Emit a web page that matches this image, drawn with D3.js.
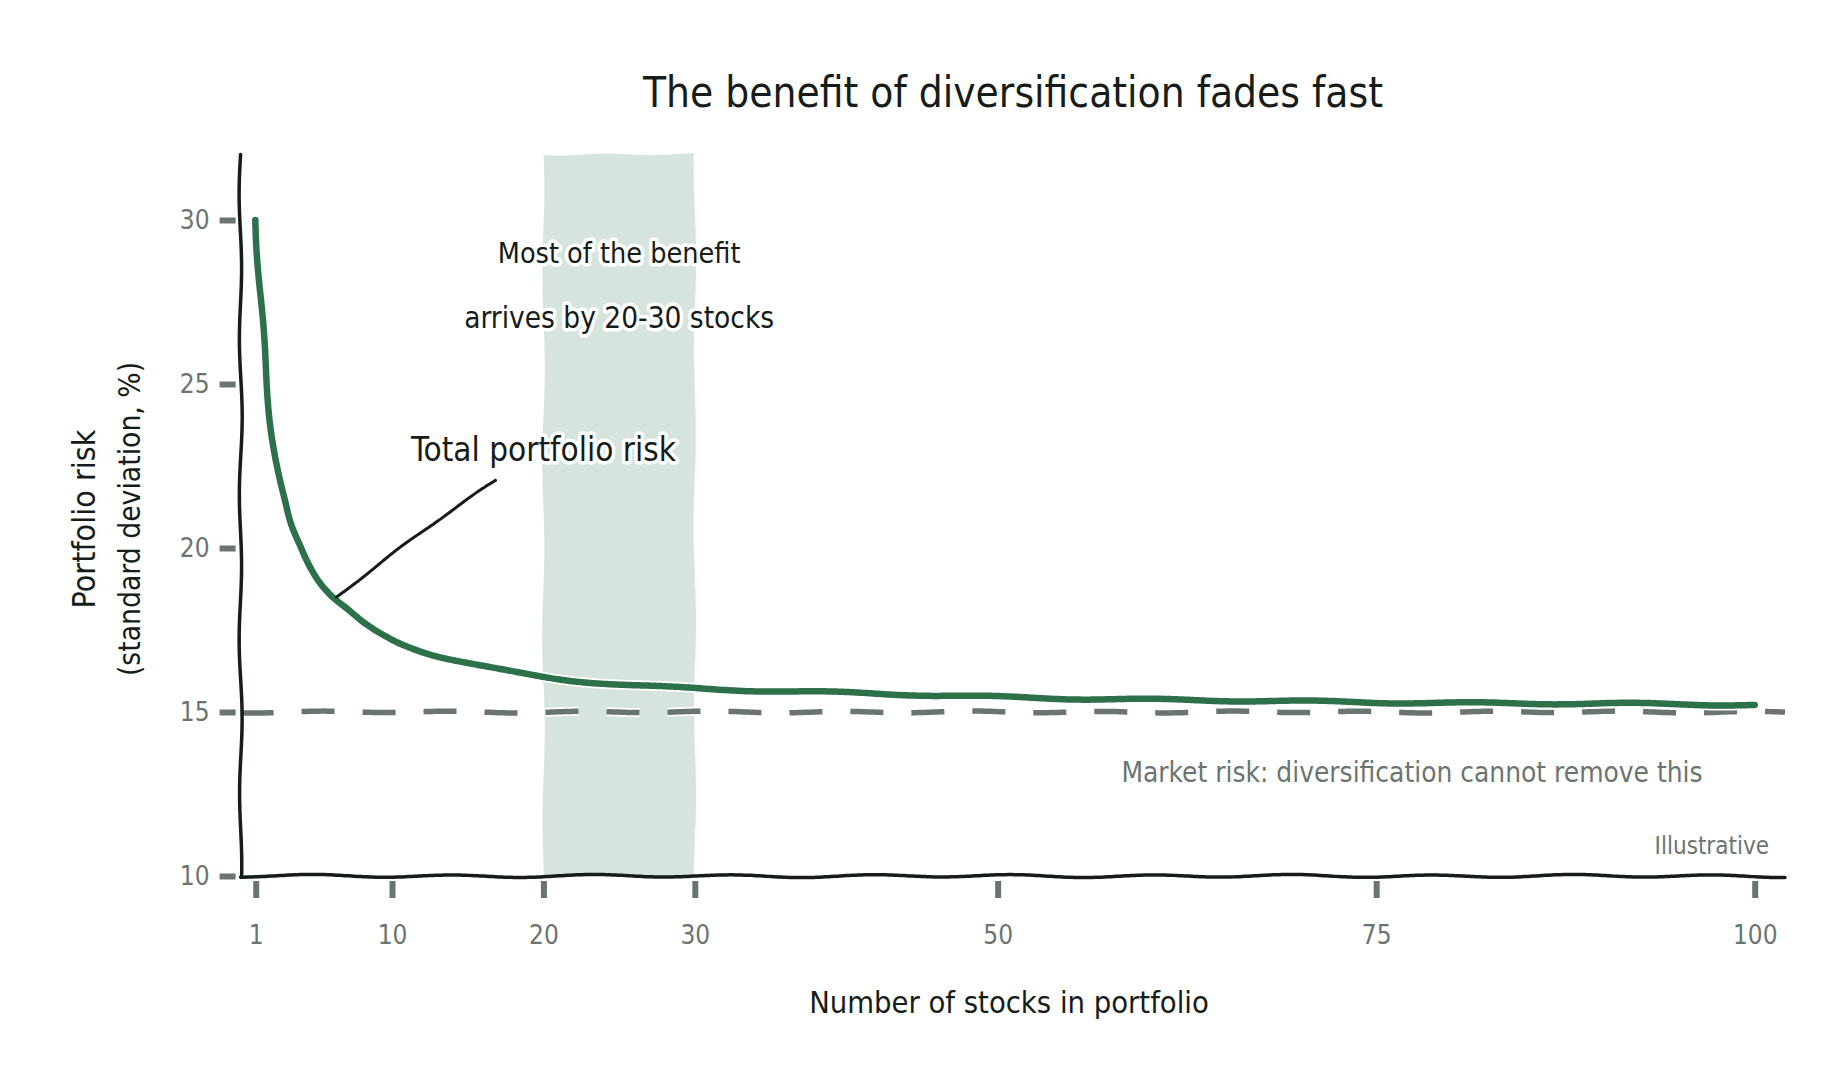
<!DOCTYPE html>
<html>
<head>
<meta charset="utf-8">
<script src="https://cdn.jsdelivr.net/npm/d3@7"></script>
<style>
  body { margin: 0; background: #fff; }
  svg text { font-family: "Liberation Sans Narrow", "DejaVu Sans Condensed", "Open Sans", sans-serif; }
</style>
</head>
<body>
<script>
// values
const stocks = [1, 2, 3, 4, 5, 6, 7, 8, 10, 12, 15, 20, 25, 30, 35, 40, 50, 60, 70, 80, 90, 100];
const risk   = [30.0, 23.7, 21.2, 20.05, 19.15, 18.55, 18.15, 17.75, 17.2, 16.85, 16.5, 16.05, 15.85, 15.72, 15.65, 15.58, 15.46, 15.38, 15.32, 15.28, 15.25, 15.22];
const xTicks = [1, 10, 20, 30, 50, 75, 100];
const yTicks = [10, 15, 20, 25, 30];
const marketRisk = 15;
const band = [20, 30];

const width = 1839, height = 1080;
const ink = "#161c19", grey = "#6b7570", green = "#2c714a", bandFill = "#d6e4dd";

const svg = d3.select("body").append("svg")
  .attr("width", width).attr("height", height);

const x = d3.scaleLinear().domain([0, 102]).range([240.6, 1785]);
const y = d3.scaleLinear().domain([10, 32]).range([876, 154.4]);

// hand-drawn look: resample a path and push it sideways a little
function densify(d, step) {
  const p = svg.append("path").attr("d", d);
  const node = p.node(), L = node.getTotalLength(), pts = [];
  for (let l = 0; l < L; l += step) { const q = node.getPointAtLength(l); pts.push([q.x, q.y]); }
  const q = node.getPointAtLength(L); pts.push([q.x, q.y]);
  p.remove();
  return pts;
}
function wobble(pts, amp, wl, phase) {
  let s = 0;
  return pts.map((p, i) => {
    if (i > 0) s += Math.hypot(p[0] - pts[i - 1][0], p[1] - pts[i - 1][1]);
    const a = pts[Math.max(0, i - 2)], b = pts[Math.min(pts.length - 1, i + 2)];
    const dx = b[0] - a[0], dy = b[1] - a[1], L = Math.hypot(dx, dy) || 1;
    const o = amp * (0.8 * Math.sin(2 * Math.PI * s / wl + phase) + 0.2 * Math.sin(2 * Math.PI * s / (wl * 2.3) + phase * 2.3));
    return [p[0] - dy / L * o, p[1] + dx / L * o];
  });
}
const line = d3.line().curve(d3.curveBasis);
const sketch = (d, amp, wl, phase) => line(wobble(densify(d, 3), amp, wl, phase));

// shaded band 20-30
const bx0 = x(band[0]), bx1 = x(band[1]), by0 = y(32), by1 = y(10);
const bandPts = []
  .concat(wobble(densify(`M${bx0},${by0}L${bx1},${by0}`, 3), 1.2, 90, 0.4))
  .concat(wobble(densify(`M${bx1},${by0}L${bx1},${by1}`, 3), 1.4, 180, 1.1))
  .concat(wobble(densify(`M${bx1},${by1}L${bx0},${by1}`, 3), 1.2, 90, 2.0))
  .concat(wobble(densify(`M${bx0},${by1}L${bx0},${by0}`, 3), 1.4, 180, 2.7));
svg.append("path").attr("d", d3.line()(bandPts) + "Z").attr("fill", bandFill);

// market risk dashed line
const dashD = sketch(`M${x(0)},${y(marketRisk)}L${x(102)},${y(marketRisk)}`, 1.0, 130, 0.8);
svg.append("path").attr("d", dashD).attr("fill", "none")
  .attr("stroke", "#fff").attr("stroke-width", 9).attr("stroke-dasharray", "33,28");
svg.append("path").attr("d", dashD).attr("fill", "none")
  .attr("stroke", grey).attr("stroke-width", 5.5).attr("stroke-dasharray", "33,28");

// total risk curve
const curveD = d3.line().x((d, i) => x(stocks[i])).y(d => y(d)).curve(d3.curveMonotoneX)(risk);
const curveS = sketch(curveD, 1.2, 160, 0.3);
svg.append("path").attr("d", curveS).attr("fill", "none")
  .attr("stroke", "#fff").attr("stroke-width", 10).attr("stroke-linecap", "round").attr("stroke-linejoin", "round");
svg.append("path").attr("d", curveS).attr("fill", "none")
  .attr("stroke", green).attr("stroke-width", 6.5).attr("stroke-linecap", "round").attr("stroke-linejoin", "round");

// axes
const yAxis = svg.append("g").attr("transform", `translate(${x(0)},0)`)
  .call(d3.axisLeft(y).tickValues(yTicks).tickSize(21).tickPadding(10).tickFormat(d3.format("d")));
const xAxis = svg.append("g").attr("transform", `translate(0,${y(10)})`)
  .call(d3.axisBottom(x).tickValues(xTicks).tickSize(22).tickPadding(28).tickFormat(d3.format("d")));
[yAxis, xAxis].forEach(g => {
  g.select(".domain").remove();
  g.selectAll(".tick line").attr("stroke", grey).attr("stroke-width", 6);
  g.selectAll(".tick text").attr("fill", grey).style("font-size", "26px");
});
yAxis.selectAll(".tick line").attr("x2", -21).attr("x1", -5);
xAxis.selectAll(".tick line").attr("y1", 5).attr("y2", 22);
xAxis.selectAll(".tick text").attr("dy", "0.71em");

svg.append("path").attr("d", sketch(`M${x(0)},${y(32)}L${x(0)},${y(10)}`, 1.6, 150, 0.0))
  .attr("fill", "none").attr("stroke", ink).attr("stroke-width", 3.5).attr("stroke-linecap", "round");
svg.append("path").attr("d", sketch(`M${x(0)},${y(10)}L${x(102)},${y(10)}`, 1.6, 140, 1.5))
  .attr("fill", "none").attr("stroke", ink).attr("stroke-width", 3.5).attr("stroke-linecap", "round");

// leader from label to curve
svg.append("path")
  .attr("d", sketch(`M${x(16.85)},${y(22.05)}Q${x(12)},${y(20.6)} ${x(6.35)},${y(18.5)}`, 0.8, 100, 0.5))
  .attr("fill", "none").attr("stroke", ink).attr("stroke-width", 3).attr("stroke-linecap", "round");

// text
const halo = sel => sel.attr("stroke", "#fff").attr("stroke-width", 7)
  .attr("stroke-linejoin", "round").style("paint-order", "stroke");

svg.append("text").attr("x", 1013).attr("y", 107).attr("text-anchor", "middle")
  .attr("fill", ink).style("font-size", "42px").text("The benefit of diversification fades fast");

svg.append("text").attr("x", x(25)).attr("y", y(29) + 10).attr("text-anchor", "middle")
  .attr("fill", ink).style("font-size", "28.5px").call(halo).text("Most of the benefit");
svg.append("text").attr("x", x(25)).attr("y", y(27) + 10).attr("text-anchor", "middle")
  .attr("fill", ink).style("font-size", "29.5px").call(halo).text("arrives by 20-30 stocks");

svg.append("text").attr("x", x(20)).attr("y", y(23) + 11).attr("text-anchor", "middle")
  .attr("fill", ink).style("font-size", "33px").call(halo).text("Total portfolio risk");

svg.append("text").attr("x", 1412).attr("y", y(13.15) + 9).attr("text-anchor", "middle")
  .attr("fill", grey).style("font-size", "27.8px").text("Market risk: diversification cannot remove this");

svg.append("text").attr("x", 1769).attr("y", y(10.9) + 8).attr("text-anchor", "end")
  .attr("fill", grey).style("font-size", "24px").text("Illustrative");

svg.append("text").attr("x", 1009).attr("y", 1013).attr("text-anchor", "middle")
  .attr("fill", ink).style("font-size", "30.6px").text("Number of stocks in portfolio");

const yl = svg.append("text").attr("transform", "translate(84,519) rotate(-90)")
  .attr("text-anchor", "middle").attr("fill", ink);
yl.append("tspan").attr("x", 0).attr("dy", "0.35em").style("font-size", "32px").text("Portfolio risk");
yl.append("tspan").attr("x", 0).attr("dy", "1.5em").style("font-size", "29.7px").text("(standard deviation, %)");
</script>
</body>
</html>
